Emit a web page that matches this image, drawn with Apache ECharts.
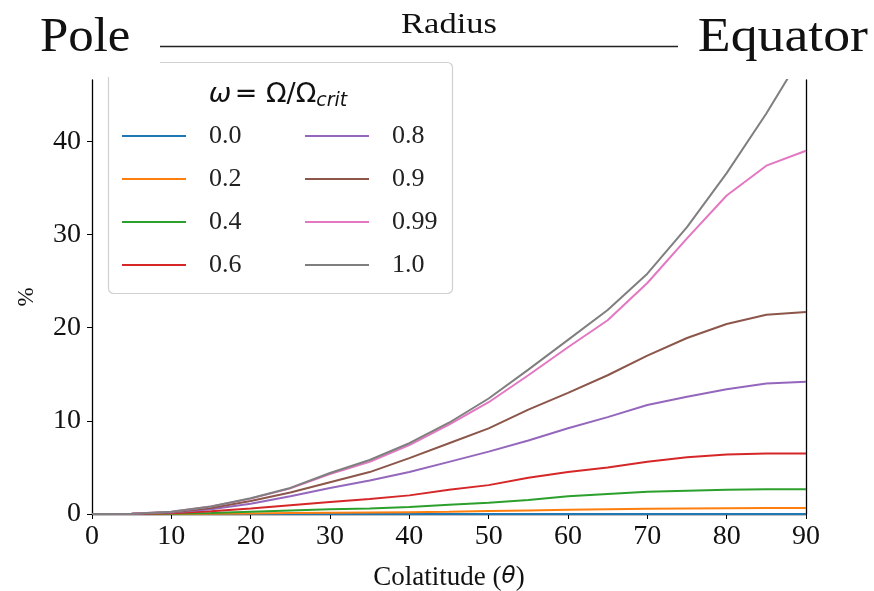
<!DOCTYPE html>
<html><head><meta charset="utf-8">
<script src="https://cdn.jsdelivr.net/npm/echarts@6/dist/echarts.min.js"></script>
<style>html,body{margin:0;padding:0;background:#fff}#c{width:874px;height:591px}</style>
</head><body><div id="c"></div>
<script>
const theta = [0,5,10,15,20,25,30,35,40,45,50,55,60,65,70,75,80,85,90];
const w00 = [0,0,0,0,0,0,0,0,0,0,0,0,0,0,0,0,0,0,0];
const w02 = [0,0,0.01,0.03,0.06,0.1,0.13,0.16,0.2,0.25,0.32,0.38,0.45,0.52,0.57,0.6,0.63,0.65,0.65];
const w04 = [0,0,0.03,0.1,0.25,0.38,0.5,0.6,0.75,1.0,1.2,1.5,1.9,2.15,2.4,2.5,2.6,2.65,2.65];
const w06 = [0,0.01,0.08,0.3,0.6,0.95,1.3,1.6,2.0,2.6,3.1,3.9,4.5,5.0,5.6,6.1,6.4,6.5,6.5];
const w08 = [0,0.02,0.15,0.5,1.1,1.9,2.8,3.6,4.5,5.6,6.7,7.9,9.2,10.4,11.7,12.6,13.4,14.0,14.2];
const w09 = [0,0.02,0.2,0.65,1.4,2.3,3.4,4.5,6.0,7.6,9.2,11.2,13.0,14.9,17.0,18.9,20.4,21.4,21.7];
const w099 = [0,0.03,0.25,0.8,1.65,2.75,4.3,5.6,7.4,9.6,12.0,14.9,17.9,20.8,24.8,29.6,34.2,37.4,39.0];
const w10 = [0,0.03,0.25,0.8,1.7,2.8,4.4,5.8,7.6,9.8,12.4,15.5,18.7,21.9,25.8,30.8,36.6,43.0,50.0];
const seriesNames = ['0.0','0.2','0.4','0.6','0.8','0.9','0.99','1.0'];
const seriesData = [w00,w02,w04,w06,w08,w09,w099,w10];
const colors = ['#1f77b4','#ff7f0e','#2ca02c','#d62728','#9467bd','#8c564b','#e377c2','#7f7f7f'];
const xTicks = [0,10,20,30,40,50,60,70,80,90];
const yTicks = [0,10,20,30,40];

const serif = 'Liberation Serif';
const chart = echarts.init(document.getElementById('c'));
const legendBase = {
  orient: 'vertical', icon: 'rect', itemWidth: 64, itemHeight: 2.2, itemGap: 17,
  textStyle: {fontFamily: serif, fontSize: 26, color: '#222', padding: [0,0,0,18]},
  selectedMode: false, z: 60
};
chart.setOption({
  animation: false,
  backgroundColor: '#fff',
  grid: {left: 92, right: 68, top: 80, bottom: 77, outerBoundsMode: 'none', containLabel: false},
  xAxis: {
    type: 'value', min: 0, max: 90, interval: 10,
    axisLine: {lineStyle: {color: '#000', width: 1.3}},
    axisTick: {show: true, length: 5, lineStyle: {color: '#000'}},
    axisLabel: {fontFamily: serif, fontSize: 28, color: '#111', margin: 9},
    splitLine: {show: false},
    name: '{t|Colatitude (}{th|θ}{t|)}', nameLocation: 'middle', nameGap: 50,
    nameTextStyle: {rich: {
      t: {fontFamily: serif, fontSize: 27, color: '#111'},
      th: {fontFamily: 'DejaVu Sans', fontStyle: 'italic', fontSize: 23, color: '#111'}}},
  },
  yAxis: [{
    type: 'value', min: 0, max: 46.6,
    axisLine: {show: true, lineStyle: {color: '#000', width: 1.3}},
    axisTick: {show: true, length: 5, lineStyle: {color: '#000'}, customValues: yTicks},
    axisLabel: {fontFamily: serif, fontSize: 28, color: '#111', margin: 11, customValues: yTicks},
    splitLine: {show: false},
    name: '%', nameLocation: 'middle', nameGap: 54, nameRotate: 90,
    nameTextStyle: {fontFamily: serif, fontSize: 23, color: '#111'}
  }, {
    type: 'value', min: 0, max: 46.6, position: 'right',
    axisLine: {show: true, lineStyle: {color: '#000', width: 1.3}},
    axisTick: {show: false}, axisLabel: {show: false}, splitLine: {show: false}
  }],
  legend: [
    Object.assign({left: 117, top: 118, data: seriesNames.slice(0,4)}, legendBase),
    Object.assign({left: 300, top: 118, data: seriesNames.slice(4)}, legendBase)
  ],
  series: seriesNames.map((n, i) => ({
    name: n, type: 'line', symbol: 'none', smooth: false,
    data: theta.map((t, j) => [t, seriesData[i][j]]),
    lineStyle: {width: 2, color: colors[i]}, itemStyle: {color: colors[i]},
    z: 2 + i
  })),
  graphic: [
    {type: 'rect', shape: {x: 108.5, y: 62.5, width: 344, height: 231, r: 5}, style: {fill: 'rgba(255,255,255,0.85)', stroke: '#d0d0d0', lineWidth: 1.2}, z: 50},
    {type: 'rect', shape: {x: 100, y: 54, width: 60, height: 23}, style: {fill: '#fff'}, z: 51},
    {type: 'text', x: 278, y: 95, style: {text: '{a|ω} {b|= Ω/Ω}{c|crit}', textAlign: 'center', textVerticalAlign: 'middle',
      rich: {a: {fontFamily: 'DejaVu Sans', fontStyle: 'italic', fontSize: 27, fill: '#111'},
             b: {fontFamily: 'DejaVu Sans', fontSize: 27, fill: '#111'},
             c: {fontFamily: 'DejaVu Sans', fontStyle: 'italic', fontSize: 19, fill: '#111', padding: [13,0,0,0]}}}, z: 52},
    {type: 'text', x: 40, y: 38, scaleX: 1.06, style: {text: 'Pole', font: '48px "Liberation Serif"', fill: '#111', textVerticalAlign: 'middle'}, z: 52},
    {type: 'text', x: 868, y: 38, scaleX: 1.12, style: {text: 'Equator', font: '48px "Liberation Serif"', fill: '#111', textAlign: 'right', textVerticalAlign: 'middle'}, z: 52},
    {type: 'text', x: 449, y: 25, scaleX: 1.15, style: {text: 'Radius', font: '30px "Liberation Serif"', fill: '#111', textAlign: 'center', textVerticalAlign: 'middle'}, z: 52},
    {type: 'line', shape: {x1: 160, y1: 46.5, x2: 678, y2: 46.5}, style: {stroke: '#222', lineWidth: 1.6}, z: 52}
  ]
});
</script></body></html>
